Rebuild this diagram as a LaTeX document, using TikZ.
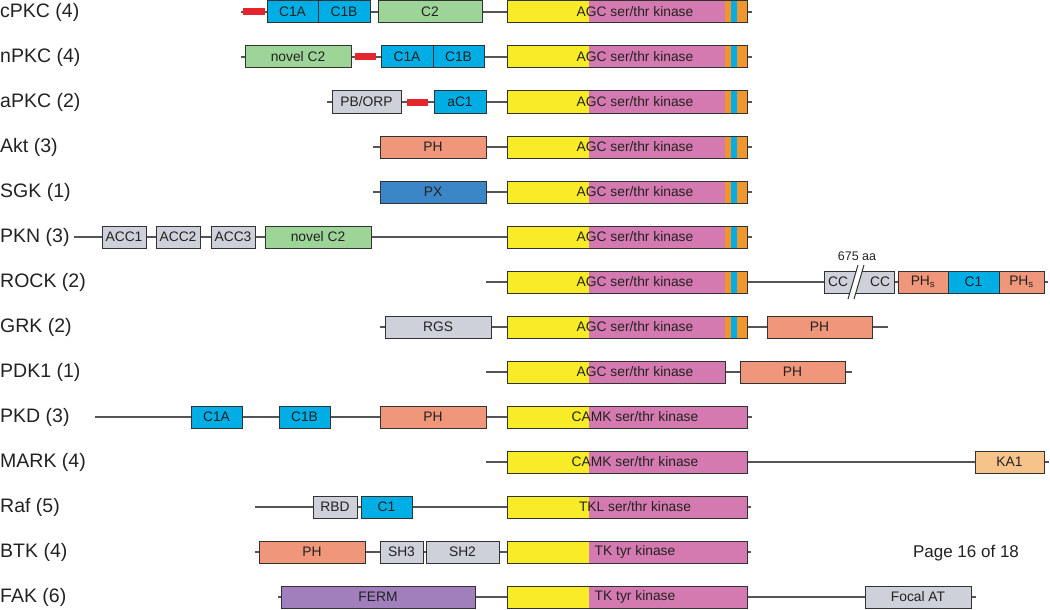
\documentclass[tikz,border=0pt]{standalone}
\usepackage{fontspec}
\setmainfont{Liberation Sans}
\definecolor{kyel}{RGB}{248,236,40}
\definecolor{kpink}{RGB}{213,122,176}
\definecolor{korange}{RGB}{240,150,46}
\definecolor{kcyan}{RGB}{0,174,230}
\definecolor{kgreen}{RGB}{157,212,152}
\definecolor{kgray}{RGB}{206,209,217}
\definecolor{ksalmon}{RGB}{240,150,122}
\definecolor{kpx}{RGB}{58,134,198}
\definecolor{kka}{RGB}{246,196,138}
\definecolor{kferm}{RGB}{160,127,188}
\definecolor{kred}{RGB}{228,37,44}
\definecolor{kborder}{RGB}{50,50,50}
\definecolor{kline}{RGB}{85,85,85}
\definecolor{ktext}{RGB}{34,34,34}
\newcommand{\dom}[6]{%
  \pgfmathsetmacro\domw{#4-#3}%
  \pgfmathsetmacro\domx{(#3+#4)/2}%
  \node[dombox,fill=#1,minimum width=\domw pt] (#2) at (\domx,#5) {#6};}
\newcommand{\redbar}[4]{%
  \pgfmathsetmacro\domw{#3-#2}%
  \pgfmathsetmacro\domx{(#2+#3)/2}%
  \node[redstyle,minimum width=\domw pt] (#1) at (\domx,#4) {};}
\newcommand{\kinase}[5]{%
  \fill[kyel] (507,#3-11) rectangle (589,#3+11);
  \fill[kpink] (589,#3-11) rectangle (#2,#3+11);
  \ifnum#5=1
    \fill[korange] (725,#3-11) rectangle (747,#3+11);
    \fill[kcyan] (731,#3-11) rectangle (737,#3+11);
  \fi
  \pgfmathsetmacro\domw{#2-507}%
  \pgfmathsetmacro\domx{(#2+507)/2}%
  \node[dombox,minimum width=\domw pt] (#1) at (\domx,#3) {};
  \node[kintext] (#1t) at (635,#3) {#4};}
\begin{document}
\begin{tikzpicture}[x=1pt,y=-1pt,
  dombox/.style={draw=kborder,line width=1pt,minimum height=22pt,inner sep=0pt,
    font=\fontsize{13.8}{16}\selectfont,text=ktext},
  kintext/.style={inner sep=0pt,font=\fontsize{13.8}{16}\selectfont,text=ktext},
  redstyle/.style={fill=kred,minimum height=7pt,inner sep=0pt},
  rowlab/.style={anchor=west,inner sep=0pt,font=\fontsize{19.5}{22}\selectfont,text=ktext},
  bb/.style={draw=kline,line width=1.2pt},
  note/.style={inner sep=0pt,text=ktext}]
\useasboundingbox (0,0) rectangle (1050,610);
\fill[white] (0,0) rectangle (1050,610);

% row labels
\node[rowlab] (l1) at (0,12) {cPKC (4)};
\node[rowlab] (l2) at (0,57) {nPKC (4)};
\node[rowlab] (l3) at (0,102) {aPKC (2)};
\node[rowlab] (l4) at (0,147) {Akt (3)};
\node[rowlab] (l5) at (0,192) {SGK (1)};
\node[rowlab] (l6) at (0,237) {PKN (3)};
\node[rowlab] (l7) at (0,282) {ROCK (2)};
\node[rowlab] (l8) at (0,327) {GRK (2)};
\node[rowlab] (l9) at (0,372) {PDK1 (1)};
\node[rowlab] (l10) at (0,417) {PKD (3)};
\node[rowlab] (l11) at (0,462) {MARK (4)};
\node[rowlab] (l12) at (0,507) {Raf (5)};
\node[rowlab] (l13) at (0,552) {BTK (4)};
\node[rowlab] (l14) at (0,597) {FAK (6)};

% row 1 cPKC
\coordinate (s1) at (241,12);
\redbar{red1}{243}{265}{12}
\dom{kcyan}{a1}{267}{318}{12}{C1A}
\dom{kcyan}{b1}{318}{370}{12}{C1B}
\dom{kgreen}{c1}{378}{482}{12}{C2}
\kinase{k1}{747}{12}{AGC ser/thr kinase}{1}
\coordinate (e1) at (752,12);
\draw[bb] (s1) -- (red1.west) (red1.east) -- (a1.west) (b1.east) -- (c1.west) (c1.east) -- (k1.west) (k1.east) -- (e1);

% row 2 nPKC
\coordinate (s2) at (241,57);
\dom{kgreen}{a2}{245}{351}{57}{novel C2}
\redbar{red2}{355}{376}{57}
\dom{kcyan}{b2}{381}{433}{57}{C1A}
\dom{kcyan}{c2}{433}{484}{57}{C1B}
\kinase{k2}{747}{57}{AGC ser/thr kinase}{1}
\coordinate (e2) at (752,57);
\draw[bb] (s2) -- (a2.west) (a2.east) -- (red2.west) (red2.east) -- (b2.west) (c2.east) -- (k2.west) (k2.east) -- (e2);

% row 3 aPKC
\coordinate (s3) at (327,102);
\dom{kgray}{a3}{332}{401}{102}{PB/ORP}
\redbar{red3}{407}{428}{102}
\dom{kcyan}{b3}{434}{486}{102}{aC1}
\kinase{k3}{747}{102}{AGC ser/thr kinase}{1}
\coordinate (e3) at (752,102);
\draw[bb] (s3) -- (a3.west) (a3.east) -- (red3.west) (red3.east) -- (b3.west) (b3.east) -- (k3.west) (k3.east) -- (e3);

% row 4 Akt
\coordinate (s4) at (373,147);
\dom{ksalmon}{a4}{380}{486}{147}{PH}
\kinase{k4}{747}{147}{AGC ser/thr kinase}{1}
\coordinate (e4) at (752,147);
\draw[bb] (s4) -- (a4.west) (a4.east) -- (k4.west) (k4.east) -- (e4);

% row 5 SGK
\coordinate (s5) at (373,192);
\dom{kpx}{a5}{380}{486}{192}{PX}
\kinase{k5}{747}{192}{AGC ser/thr kinase}{1}
\coordinate (e5) at (752,192);
\draw[bb] (s5) -- (a5.west) (a5.east) -- (k5.west) (k5.east) -- (e5);

% row 6 PKN
\coordinate (s6) at (74,237);
\dom{kgray}{a6}{102}{146}{237}{ACC1}
\dom{kgray}{b6}{156}{200}{237}{ACC2}
\dom{kgray}{c6}{211}{255}{237}{ACC3}
\dom{kgreen}{d6}{265}{371}{237}{novel C2}
\kinase{k6}{747}{237}{AGC ser/thr kinase}{1}
\coordinate (e6) at (752,237);
\draw[bb] (s6) -- (a6.west) (a6.east) -- (b6.west) (b6.east) -- (c6.west) (c6.east) -- (d6.west) (d6.east) -- (k6.west) (k6.east) -- (e6);

% row 7 ROCK
\coordinate (s7) at (486,282);
\kinase{k7}{747}{282}{AGC ser/thr kinase}{1}
\dom{kgray}{a7}{824}{894}{282}{}
\node[dombox,draw=none] (a7l) at (838,282) {CC};
\node[dombox,draw=none] (a7r) at (880,282) {CC};
\fill[white] (848,299) -- (858,265) -- (864,265) -- (854,299) -- cycle;
\draw[draw=kborder,line width=1pt] (848,299) -- (858,265) (854,299) -- (864,265);
\node[note,font=\fontsize{12.5}{15}\selectfont] (aa7) at (857,256) {675 aa};
\dom{ksalmon}{b7}{898}{948}{282}{PH\textsubscript{s}}
\dom{kcyan}{c7}{948}{999}{282}{C1}
\dom{ksalmon}{d7}{999}{1044}{282}{PH\textsubscript{s}}
\coordinate (e7) at (1048,282);
\draw[bb] (s7) -- (k7.west) (k7.east) -- (a7.west) (a7.east) -- (b7.west) (d7.east) -- (e7);

% row 8 GRK
\coordinate (s8) at (380,327);
\dom{kgray}{a8}{385}{491}{327}{RGS}
\kinase{k8}{747}{327}{AGC ser/thr kinase}{1}
\dom{ksalmon}{b8}{767}{872}{327}{PH}
\coordinate (e8) at (888,327);
\draw[bb] (s8) -- (a8.west) (a8.east) -- (k8.west) (k8.east) -- (b8.west) (b8.east) -- (e8);

% row 9 PDK1
\coordinate (s9) at (486,372);
\kinase{k9}{725}{372}{AGC ser/thr kinase}{0}
\dom{ksalmon}{a9}{740}{845}{372}{PH}
\coordinate (e9) at (852,372);
\draw[bb] (s9) -- (k9.west) (k9.east) -- (a9.west) (a9.east) -- (e9);

% row 10 PKD
\coordinate (s10) at (95,417);
\dom{kcyan}{a10}{191}{242}{417}{C1A}
\dom{kcyan}{b10}{279}{330}{417}{C1B}
\dom{ksalmon}{c10}{380}{486}{417}{PH}
\kinase{k10}{747}{417}{CAMK ser/thr kinase}{0}
\coordinate (e10) at (752,417);
\draw[bb] (s10) -- (a10.west) (a10.east) -- (b10.west) (b10.east) -- (c10.west) (c10.east) -- (k10.west) (k10.east) -- (e10);

% row 11 MARK
\coordinate (s11) at (486,462);
\kinase{k11}{747}{462}{CAMK ser/thr kinase}{0}
\dom{kka}{a11}{975}{1044}{462}{KA1}
\coordinate (e11) at (1049,462);
\draw[bb] (s11) -- (k11.west) (k11.east) -- (a11.west) (a11.east) -- (e11);

% row 12 Raf
\coordinate (s12) at (255,507);
\dom{kgray}{a12}{313}{357}{507}{RBD}
\dom{kcyan}{b12}{361}{412}{507}{C1}
\kinase{k12}{747}{507}{TKL ser/thr kinase}{0}
\coordinate (e12) at (751,507);
\draw[bb] (s12) -- (a12.west) (a12.east) -- (b12.west) (b12.east) -- (k12.west) (k12.east) -- (e12);

% row 13 BTK
\coordinate (s13) at (255,552);
\dom{ksalmon}{a13}{259}{365}{552}{PH}
\dom{kgray}{b13}{380}{423}{552}{SH3}
\dom{kgray}{c13}{426}{499}{552}{SH2}
\kinase{k13}{747}{552}{TK tyr kinase}{0}
\coordinate (e13) at (751,552);
\draw[bb] (s13) -- (a13.west) (a13.east) -- (b13.west) (b13.east) -- (c13.west) (c13.east) -- (k13.west) (k13.east) -- (e13);

% row 14 FAK
\coordinate (s14) at (278,597);
\dom{kferm}{a14}{281}{475}{597}{FERM}
\kinase{k14}{747}{597}{TK tyr kinase}{0}
\dom{kgray}{b14}{865}{971}{597}{Focal AT}
\coordinate (e14) at (976,597);
\draw[bb] (s14) -- (a14.west) (a14.east) -- (k14.west) (k14.east) -- (b14.west) (b14.east) -- (e14);

% page note
\node[note,font=\fontsize{17}{20}\selectfont] (page) at (966,553) {Page 16 of 18};
\end{tikzpicture}
\end{document}
